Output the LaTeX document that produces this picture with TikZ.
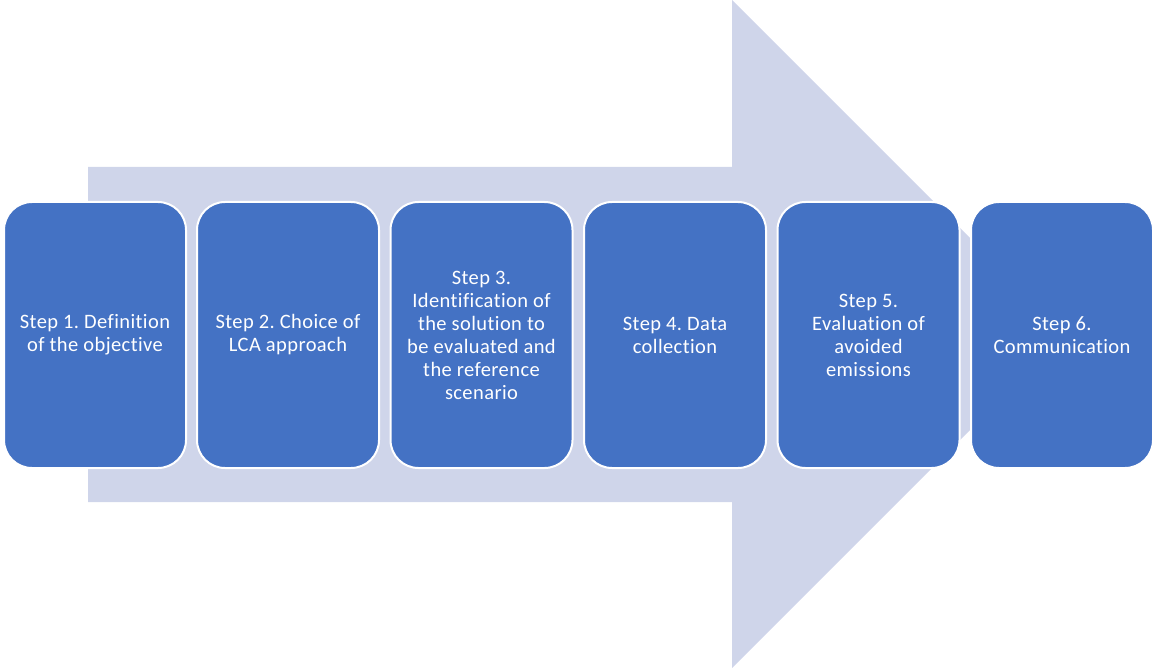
\documentclass[tikz,border=0pt]{standalone}
\usepackage{fontspec}
\setmainfont{Carlito}[RawFeature=-liga,LetterSpace=2]
\frenchspacing
\definecolor{boxblue}{HTML}{4472C4}
\definecolor{arrowfill}{HTML}{CFD5EA}
\begin{document}
\begin{tikzpicture}[x=1pt,y=-1pt,
  stepbox/.style={draw=white,line width=2pt,fill=boxblue,rounded corners=28pt,
    minimum width=182pt,minimum height=266pt,align=center,
    text=white,font=\fontsize{20.5}{23}\selectfont,inner sep=0pt}]
\useasboundingbox (0,0) rectangle (1155,668);
\fill[arrowfill] (88,167) -- (732,167) -- (732,0) -- (1066,334) -- (732,668) -- (732,502) -- (88,502) -- cycle;
\node[stepbox] (s1) at (95,335) {Step 1. Definition\\of the objective};
\node[stepbox] (s2) at (288,335) {Step 2. Choice of\\LCA approach};
\node[stepbox] (s3) at (481.5,335) {Step 3.\\Identification of\\the solution to\\be evaluated and\\the reference\\scenario};
\node[stepbox] (s4) at (675,335) {Step 4. Data\\collection};
\node[stepbox] (s5) at (868.5,335) {Step 5.\\Evaluation of\\avoided\\emissions};
\node[stepbox] (s6) at (1062,335) {Step 6.\\Communication};
\end{tikzpicture}
\end{document}
